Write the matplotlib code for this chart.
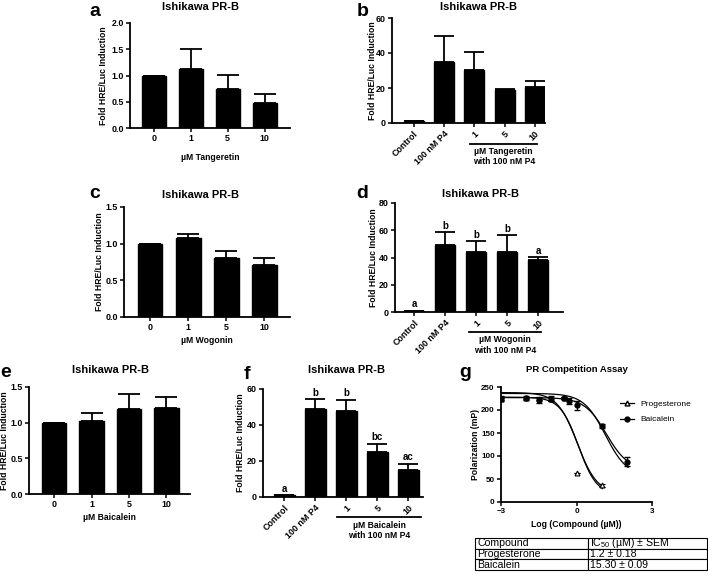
"""Ishikawa PR-B luciferase panels and PR competition assay."""

import matplotlib
matplotlib.use("Agg")
import matplotlib.pyplot as plt
import numpy as np

plt.rcParams["font.family"] = ["Liberation Sans", "DejaVu Sans"]
plt.rcParams["mathtext.default"] = "regular"

W, H = 708, 575

# --- data ---
dose_labels = ["0", "1", "5", "10"]
p4_labels = ["Control", "100 nM P4", "1", "5", "10"]

tang_mean = [1.0, 1.12, 0.74, 0.47]
tang_err = [0.0, 0.38, 0.27, 0.17]
tang_p4_mean = [1.0, 34.9, 30.5, 19.0, 20.4]
tang_p4_err = [0.0, 14.6, 10.1, 0.4, 3.6]

wog_mean = [1.0, 1.075, 0.80, 0.705]
wog_err = [0.0, 0.055, 0.10, 0.095]
wog_p4_mean = [1.0, 48.9, 43.8, 44.0, 37.9]
wog_p4_err = [0.0, 9.8, 8.1, 12.3, 2.5]
wog_p4_sig = ["a", "b", "b", "b", "a"]

baic_mean = [1.0, 1.03, 1.19, 1.21]
baic_err = [0.0, 0.11, 0.21, 0.15]
baic_p4_mean = [1.0, 48.9, 47.6, 25.0, 15.2]
baic_p4_err = [0.0, 5.5, 6.5, 4.6, 3.3]
baic_p4_sig = ["a", "b", "b", "bc", "ac"]

# competition assay (log uM vs mP)
prog_logx = [-3, -2, -1.5, -1, -0.5, 0, 1]
prog_mp = [224, 226, 224, 223, 227, 62, 36]
prog_sem = [3, 2, 3, 3, 2, 0, 4]
baic_logx = [-3, -2, -1.5, -1, -0.5, -0.3, 0, 1, 2]
baic_mp = [225, 226, 222, 225, 226, 220, 210, 165, 88]
baic_sem = [5, 4, 7, 5, 3, 6, 9, 5, 10]
# fitted 4PL curves: (top, bottom, logIC50, hill)
prog_fits = [(228, 15, 0.08, 1.2), (238, 18, 0.03, 1.1)]
baic_fits = [(227, 69, 1.185, 1.0), (236, 55, 1.15, 1.0)]

table_rows = [
    ["Compound", "IC$_{50}$ (\u00b5M) \u00b1 SEM"],
    ["Progesterone", "1.2 \u00b1 0.18"],
    ["Baicalein", "15.30 \u00b1 0.09"],
]

TICK_FS = 6.4
LABEL_FS = 6.2
TITLE_FS = 8.0


def px_axes(fig, x0, y0, x1, y1):
    return fig.add_axes([x0 / W, 1 - y1 / H, (x1 - x0) / W, (y1 - y0) / H])


def style_axes(ax):
    for side in ("top", "right"):
        ax.spines[side].set_visible(False)
    for side in ("left", "bottom"):
        ax.spines[side].set_linewidth(1.3)
    ax.tick_params(direction="out", length=3, width=1.1, pad=1.5,
                   labelsize=TICK_FS)
    for lab in ax.get_xticklabels() + ax.get_yticklabels():
        lab.set_fontweight("bold")


def bars(ax, means, errs, width, capsize):
    x = np.arange(len(means))
    ax.bar(x, means, width=width, color="black", edgecolor="black", zorder=2)
    ax.errorbar(x, means, yerr=[np.zeros(len(errs)), errs], fmt="none",
                ecolor="black", elinewidth=1.3, capsize=capsize,
                capthick=1.3, zorder=1)
    return x


def plot_dose_panel(ax, means, errs, ylim, yticks, xlim, xlabel, xlabel_y,
                    ylabel_x):
    x = bars(ax, means, errs, 0.65, 8)
    ax.set_xlim(*xlim)
    ax.set_ylim(*ylim)
    ax.set_xticks(x)
    ax.set_xticklabels(dose_labels)
    ax.set_yticks(yticks)
    ax.set_yticklabels([f"{t:.1f}" for t in yticks])
    style_axes(ax)
    ax.set_xlabel(xlabel, fontsize=LABEL_FS, fontweight="bold")
    ax.xaxis.set_label_coords(0.5, xlabel_y)
    ax.set_ylabel("Fold HRE/Luc Induction", fontsize=LABEL_FS,
                  fontweight="bold")
    ax.yaxis.set_label_coords(ylabel_x, 0.5)


def plot_p4_panel(ax, means, errs, ylim, yticks, xlim, compound, line_x,
                  line_y, text_y, ylabel_x, sig=None):
    x = bars(ax, means, errs, 0.66, 7)
    ax.set_xlim(*xlim)
    ax.set_ylim(*ylim)
    ax.set_xticks(x)
    ax.set_xticklabels(p4_labels, rotation=45, ha="right",
                       rotation_mode="anchor")
    ax.set_yticks(yticks)
    style_axes(ax)
    ax.set_ylabel("Fold HRE/Luc Induction", fontsize=LABEL_FS,
                  fontweight="bold")
    ax.yaxis.set_label_coords(ylabel_x, 0.5)
    trans = ax.get_xaxis_transform()
    ax.plot(line_x, [line_y, line_y], color="black", lw=1.3,
            transform=trans, clip_on=False)
    ax.text(np.mean(line_x), text_y, f"\u00b5M {compound}\nwith 100 nM P4",
            transform=trans, ha="center", va="top", fontsize=LABEL_FS,
            fontweight="bold", linespacing=1.2)
    if sig:
        for xi, m, e, s in zip(x, means, errs, sig):
            ax.annotate(s, (xi, m + e), xytext=(0, 1), textcoords="offset points",
                        ha="center", va="bottom", fontsize=7,
                        fontweight="bold")


def four_pl(x, top, bottom, logic50, hill):
    return bottom + (top - bottom) / (1 + 10 ** ((x - logic50) * hill))


def main():
    fig = plt.figure(figsize=(W / 100, H / 100), dpi=100)

    # a
    ax = px_axes(fig, 130, 23, 290, 128)
    plot_dose_panel(ax, tang_mean, tang_err, (0, 2.0), [0, 0.5, 1.0, 1.5, 2.0],
                    (-0.65, 3.69), "\u00b5M Tangeretin", -0.24, -0.14)
    # b
    ax = px_axes(fig, 392, 18, 545, 123)
    plot_p4_panel(ax, tang_p4_mean, tang_p4_err, (0, 60), [0, 20, 40, 60],
                  (-0.71, 4.33), "Tangeretin", [1.87, 4.07], -0.2, -0.225,
                  -0.10)
    # c
    ax = px_axes(fig, 124, 207, 290, 317)
    plot_dose_panel(ax, wog_mean, wog_err, (0, 1.5), [0, 0.5, 1.0, 1.5],
                    (-0.68, 3.67), "\u00b5M Wogonin", -0.175, -0.12)
    # d
    ax = px_axes(fig, 395, 203, 563, 312)
    plot_p4_panel(ax, wog_p4_mean, wog_p4_err, (0, 80), [0, 20, 40, 60, 80],
                  (-0.61, 4.8), "Wogonin", [1.78, 4.08], -0.18, -0.215,
                  -0.10, sig=wog_p4_sig)
    # e
    ax = px_axes(fig, 29, 387, 190, 494)
    plot_dose_panel(ax, baic_mean, baic_err, (0, 1.5), [0, 0.5, 1.0, 1.5],
                    (-0.67, 3.63), "\u00b5M Baicalein", -0.18, -0.125)
    # f
    ax = px_axes(fig, 263, 389, 423, 497)
    plot_p4_panel(ax, baic_p4_mean, baic_p4_err, (0, 60), [0, 20, 40, 60],
                  (-0.69, 4.47), "Baicalein", [1.71, 4.41], -0.188, -0.22,
                  -0.11, sig=baic_p4_sig)

    # g
    ax = px_axes(fig, 501, 387, 652, 502)
    xs = np.linspace(-3, 2.05, 300)
    for top, bottom, lic, hill in prog_fits:
        ax.plot(xs[xs <= 1.05], four_pl(xs[xs <= 1.05], top, bottom, lic, hill),
                color="black", lw=0.9)
    for top, bottom, lic, hill in baic_fits:
        ax.plot(xs, four_pl(xs, top, bottom, lic, hill), color="black", lw=0.9)
    ax.errorbar(prog_logx, prog_mp, yerr=prog_sem, fmt="^", ms=3.5,
                mfc="white", mec="black", mew=0.8, ecolor="black",
                elinewidth=0.9, capsize=2, zorder=3)
    ax.errorbar(baic_logx, baic_mp, yerr=baic_sem, fmt="o", ms=3.5,
                mfc="black", mec="black", ecolor="black", elinewidth=0.9,
                capsize=2, zorder=3)
    ax.plot([], [], color="black", marker="^", mfc="white", ms=3.5, lw=0.9,
            label="Progesterone")
    ax.plot([], [], color="black", marker="o", ms=3.5, lw=0.9,
            label="Baicalein")
    ax.legend(loc="upper left", bbox_to_anchor=(0.74, 0.95), frameon=False,
              fontsize=6, handlelength=1.6, labelspacing=0.9,
              handletextpad=0.8)
    ax.set_xlim(-3, 3)
    ax.set_ylim(0, 250)
    ax.set_xticks([-3, 0, 3])
    ax.set_yticks([0, 50, 100, 150, 200, 250])
    style_axes(ax)
    ax.tick_params(labelsize=5.8)
    ax.set_xlabel("Log (Compound (\u00b5M))", fontsize=LABEL_FS,
                  fontweight="bold")
    ax.xaxis.set_label_coords(0.5, -0.16)
    ax.set_ylabel("Polarization (mP)", fontsize=LABEL_FS, fontweight="bold")
    ax.yaxis.set_label_coords(-0.14, 0.5)

    # IC50 table
    tax = px_axes(fig, 475, 538, 707, 570)
    tax.axis("off")
    tbl = tax.table(cellText=table_rows, cellLoc="left", bbox=[0, 0, 1, 1],
                    colWidths=[113, 119])
    tbl.auto_set_font_size(False)
    tbl.set_fontsize(7.6)
    for cell in tbl.get_celld().values():
        cell.set_linewidth(0.8)
        cell.PAD = 0.02

    # titles
    titles = [(200, 7, "Ishikawa PR-B", TITLE_FS),
              (479, 7, "Ishikawa PR-B", TITLE_FS),
              (200, 195, "Ishikawa PR-B", TITLE_FS),
              (480, 194, "Ishikawa PR-B", TITLE_FS),
              (110, 370, "Ishikawa PR-B", TITLE_FS),
              (347, 370, "Ishikawa PR-B", TITLE_FS),
              (577, 369, "PR Competition Assay", 6.8)]
    for x, y, t, fs in titles:
        fig.text(x / W, 1 - y / H, t, ha="center", va="center",
                 fontsize=fs, fontweight="bold")

    # panel letters
    letters = [(89, 16, "a"), (357, 16, "b"), (89, 198, "c"), (356, 198, "d"),
               (0, 377, "e"), (244, 379, "f"), (459, 377, "g")]
    for x, y, t in letters:
        fig.text(x / W, 1 - y / H, t, ha="left", va="baseline",
                 fontsize=14, fontweight="bold")

    fig.savefig("out.png", dpi=100)
    plt.close(fig)


if __name__ == "__main__":
    main()
